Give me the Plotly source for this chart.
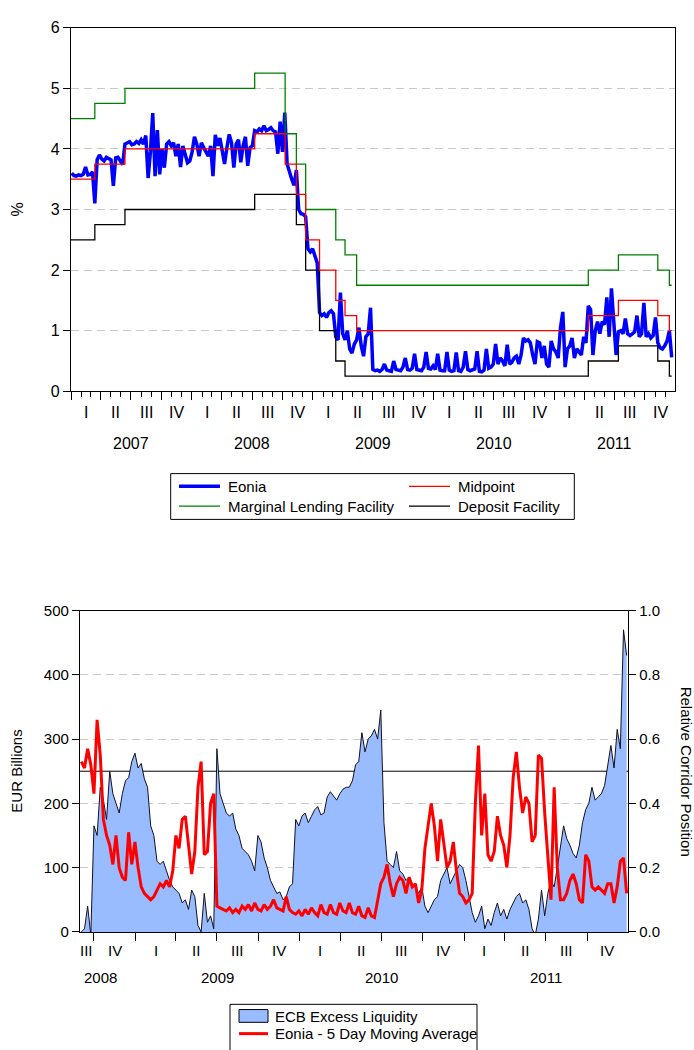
import pandas as pd
import plotly.graph_objects as go

W, H = 694, 1050
FONT = "Liberation Sans, Arial, sans-serif"

# ---------------- Top panel: ECB rates and Eonia (weekly readings) ----------------
eonia_2007 = [3.60, 3.56, 3.55, 3.57, 3.56, 3.58, 3.70, 3.57, 3.58, 3.62, 3.10, 3.82, 3.90,
              3.83, 3.80, 3.86, 3.84, 3.82, 3.39, 3.85, 3.86, 3.80, 3.74, 4.08, 4.10, 4.12,
              4.07, 4.08, 4.12, 4.09, 4.15, 4.08, 4.22, 3.52, 3.95, 4.59, 3.55, 4.31, 3.58,
              4.00, 3.69, 4.08, 4.12, 4.05, 4.10, 3.88, 4.08, 3.70, 4.05, 3.88, 3.77, 3.80]
eonia_2008 = [3.95, 4.20, 4.08, 3.88, 4.10, 4.02, 3.95, 3.88, 4.05, 3.55, 4.23, 4.05, 4.18,
              3.95, 3.75, 4.02, 4.24, 4.10, 3.69, 4.08, 4.15, 3.78, 4.05, 4.20, 3.72, 4.02,
              4.05, 4.30, 4.28, 4.33, 4.30, 4.38, 4.30, 4.32, 4.35, 4.30, 4.28, 3.92, 4.45,
              3.95, 4.60, 3.75, 3.60, 3.50, 3.40, 3.65, 3.00, 2.93, 2.92, 2.88, 2.35, 2.30, 2.35]
eonia_2009 = [2.25, 2.12, 1.30, 1.25, 1.28, 1.22, 1.30, 1.33, 1.28, 0.90, 0.85, 1.63,
              0.95, 0.85, 1.00, 0.70, 0.63, 0.78, 0.85, 1.05, 0.75, 0.58, 0.90, 0.95, 1.38,
              0.36, 0.34, 0.35, 0.33, 0.36, 0.45, 0.35, 0.34, 0.33, 0.50, 0.36, 0.35, 0.34, 0.40,
              0.55, 0.36, 0.35, 0.38, 0.62, 0.36, 0.35, 0.34, 0.40, 0.65, 0.38, 0.37, 0.42]
eonia_2010 = [0.36, 0.62, 0.35, 0.34, 0.34, 0.65, 0.35, 0.33, 0.34, 0.64, 0.34, 0.33, 0.40,
              0.66, 0.36, 0.34, 0.35, 0.37, 0.66, 0.33, 0.32, 0.35, 0.70, 0.38, 0.40, 0.45,
              0.78, 0.45, 0.55, 0.50, 0.42, 0.77, 0.45, 0.48, 0.55, 0.58, 0.45, 0.60, 0.88,
              0.83, 0.85, 0.80, 0.60, 0.45, 0.82, 0.80, 0.55, 0.75, 0.45, 0.40, 0.83, 0.70]
eonia_2011 = [0.65, 0.55, 1.05, 1.31, 0.40, 0.70, 0.75, 0.88, 0.55, 0.70, 0.65, 0.60, 0.90,
              0.80, 1.41, 1.35, 0.60, 1.00, 1.15, 0.95, 1.15, 1.10, 1.55, 0.90, 1.70, 1.10,
              0.60, 0.98, 1.00, 0.95, 1.20, 0.95, 0.92, 0.95, 0.98, 1.25, 0.90, 0.95, 1.46,
              0.90, 0.95, 0.88, 0.92, 1.22, 0.80, 0.72, 0.70, 0.75, 0.83, 1.00, 0.56]
eonia = eonia_2007 + eonia_2008 + eonia_2009 + eonia_2010 + eonia_2011
eonia_dates = pd.date_range("2007-01-03", periods=len(eonia), freq="7D")

rate_dates = ["2007-01-01", "2007-03-14", "2007-06-13", "2008-07-09", "2008-10-09",
              "2008-11-12", "2008-12-10", "2009-01-21", "2009-03-11", "2009-04-08",
              "2009-05-13", "2011-04-13", "2011-07-13", "2011-11-09", "2011-12-14", "2011-12-21"]
marginal_lending = [4.50, 4.75, 5.00, 5.25, 4.25, 3.75, 3.00, 3.00, 2.50, 2.25, 1.75, 2.00, 2.25, 2.00, 1.75, 1.75]
deposit_facility = [2.50, 2.75, 3.00, 3.25, 3.25, 2.75, 2.00, 1.00, 0.50, 0.25, 0.25, 0.50, 0.75, 0.50, 0.25, 0.25]
midpoint = [3.50, 3.75, 4.00, 4.25, 3.75, 3.25, 2.50, 2.00, 1.50, 1.25, 1.00, 1.25, 1.50, 1.25, 1.00, 1.00]

# ---------------- Bottom panel: excess liquidity and Eonia corridor position ----------------
excess_liquidity = [
    0, 5, 40, -5, 165, 150, 225, 205, 175, 250,
    215, 200, 185, 215, 235, 240, 265, 278, 255, 262,
    238, 225, 165, 150, 110, 105, 110, 95, 80, 70,
    65, 60, 45, 50, 35, 65, 55, 10, 0, 60,
    15, 25, 5, 285, 215, 200, 185, 180, 185, 160,
    150, 130, 125, 120, 110, 95, 150, 140, 115, 100,
    80, 70, 60, 62, 50, 55, 70, 75, 175, 165,
    180, 185, 170, 180, 190, 195, 182, 185, 210, 218,
    212, 205, 215, 222, 225, 225, 235, 260, 265, 310,
    280, 300, 305, 315, 300, 345, 170, 110, 105, 100,
    125, 95, 90, 80, 85, 75, 70, 60, 70, 40,
    30, 40, 50, 55, 80, 90, 100, 75, 85, 95,
    105, 100, 80, 55, 30, 15, 25, 40, 5, 20,
    10, 30, 45, 25, 35, 20, 35, 45, 55, 60,
    45, 50, 35, 5, -5, 20, 65, 25, 60, 80,
    70, 100, 130, 165, 145, 135, 122, 115, 135, 170,
    190, 200, 225, 205, 210, 215, 228, 258, 290, 255,
    315, 285, 470, 430]
eonia_corridor_position = [
    0.53, 0.51, 0.57, 0.52, 0.43, 0.66, 0.55, 0.35, 0.30, 0.27,
    0.21, 0.30, 0.20, 0.17, 0.16, 0.31, 0.21, 0.28, 0.20, 0.14,
    0.12, 0.11, 0.10, 0.11, 0.13, 0.15, 0.14, 0.16, 0.14, 0.19,
    0.30, 0.26, 0.35, 0.36, 0.27, 0.18, 0.25, 0.45, 0.53, 0.24,
    0.25, 0.40, 0.43, 0.08, 0.075, 0.07, 0.065, 0.075, 0.06, 0.07,
    0.06, 0.08, 0.07, 0.085, 0.065, 0.09, 0.07, 0.065, 0.085, 0.07,
    0.08, 0.10, 0.075, 0.07, 0.065, 0.11, 0.07, 0.06, 0.055, 0.065,
    0.05, 0.07, 0.055, 0.075, 0.06, 0.05, 0.085, 0.06, 0.055, 0.085,
    0.06, 0.055, 0.09, 0.065, 0.06, 0.09, 0.06, 0.055, 0.08, 0.05,
    0.045, 0.075, 0.05, 0.045, 0.10, 0.15, 0.17, 0.21, 0.15, 0.11,
    0.15, 0.17, 0.16, 0.12, 0.17, 0.14, 0.15, 0.09, 0.13, 0.26,
    0.33, 0.40, 0.33, 0.22, 0.35, 0.28, 0.20, 0.22, 0.28, 0.19,
    0.12, 0.11, 0.09, 0.10, 0.12, 0.40, 0.58, 0.30, 0.43, 0.24,
    0.22, 0.25, 0.36, 0.30, 0.27, 0.20, 0.30, 0.48, 0.56, 0.45,
    0.37, 0.42, 0.40, 0.28, 0.30, 0.55, 0.54, 0.37, 0.22, 0.10,
    0.45, 0.20, 0.10, 0.10, 0.12, 0.16, 0.18, 0.15, 0.10, 0.09,
    0.24, 0.22, 0.14, 0.13, 0.14, 0.13, 0.12, 0.15, 0.15, 0.09,
    0.14, 0.22, 0.23, 0.12]
bottom_dates = pd.date_range("2008-09-03", periods=len(excess_liquidity), freq="7D")
corridor_mid_level = 250

quarter_names = ["I", "II", "III", "IV"]
top_years = [2007, 2008, 2009, 2010, 2011]
bottom_years = [2008, 2009, 2010, 2011]

TOP_RANGE = ["2007-01-01", "2011-12-31"]
BOT_RANGE = ["2008-08-31", "2011-12-31"]


def px(x):
    return x / W


def py(y):
    return 1 - y / H


fig = go.Figure()

# ---- top traces
fig.add_trace(go.Scatter(x=eonia_dates, y=eonia, mode="lines", name="Eonia",
                         line=dict(color="#0000FF", width=3.5), xaxis="x", yaxis="y"))
fig.add_trace(go.Scatter(x=rate_dates, y=marginal_lending, mode="lines", line_shape="hv",
                         name="Marginal Lending Facility", line=dict(color="#008000", width=1.3),
                         xaxis="x", yaxis="y"))
fig.add_trace(go.Scatter(x=rate_dates, y=deposit_facility, mode="lines", line_shape="hv",
                         name="Deposit Facility", line=dict(color="#000000", width=1.3),
                         xaxis="x", yaxis="y"))
fig.add_trace(go.Scatter(x=rate_dates, y=midpoint, mode="lines", line_shape="hv",
                         name="Midpoint", line=dict(color="#FF0000", width=1.3),
                         xaxis="x", yaxis="y"))

# ---- bottom traces
fig.add_trace(go.Scatter(x=BOT_RANGE, y=[corridor_mid_level, corridor_mid_level], mode="lines",
                         line=dict(color="#000000", width=1), showlegend=False,
                         xaxis="x2", yaxis="y2"))
fig.add_trace(go.Scatter(x=bottom_dates, y=excess_liquidity, mode="lines", fill="tozeroy",
                         fillcolor="#99BBFF", name="ECB Excess Liquidity",
                         line=dict(color="#111122", width=1), xaxis="x2", yaxis="y2"))
fig.add_trace(go.Scatter(x=bottom_dates, y=eonia_corridor_position, mode="lines",
                         name="Eonia - 5 Day Moving Average",
                         line=dict(color="#FF0000", width=3), xaxis="x2", yaxis="y3"))

# ---- ticks
top_q = pd.date_range("2007-01-01", "2012-01-01", freq="QS")
top_m = [d for d in pd.date_range("2007-01-01", "2011-12-01", freq="MS") if d.month not in (1, 4, 7, 10)]
bot_q = pd.date_range("2008-10-01", "2012-01-01", freq="QS")

axis_common = dict(showline=True, linecolor="black", linewidth=1.3, mirror=True,
                   zeroline=False, ticks="outside", tickcolor="black", tickwidth=1)

fig.update_layout(
    width=W, height=H, margin=dict(l=0, r=0, t=0, b=0),
    paper_bgcolor="white", plot_bgcolor="white", showlegend=False,
    font=dict(family=FONT, color="black"),
    xaxis=dict(domain=[px(71), px(675)], anchor="y", type="date", range=TOP_RANGE,
               tickvals=list(top_q), showticklabels=False, ticklen=8, showgrid=False,
               minor=dict(tickvals=top_m, ticklen=5, ticks="outside", tickcolor="black", showgrid=False),
               **axis_common),
    yaxis=dict(domain=[py(389), py(19)], anchor="x", range=[0, 6], tickvals=[0, 1, 2, 3, 4, 5, 6],
               ticklen=7, tickfont=dict(size=16), showgrid=True, gridcolor="#C8C8C8",
               griddash="8px,5px", gridwidth=1, **axis_common),
    xaxis2=dict(domain=[px(80), px(628)], anchor="y2", type="date", range=BOT_RANGE,
                tickvals=list(bot_q), showticklabels=False, ticklen=8, showgrid=False,
                **axis_common),
    yaxis2=dict(domain=[py(939), py(612)], anchor="x2", range=[0, 500],
                tickvals=[0, 100, 200, 300, 400, 500], ticklen=7, tickfont=dict(size=15),
                showgrid=True, gridcolor="#C8C8C8", griddash="8px,5px", gridwidth=1,
                **axis_common),
    yaxis3=dict(overlaying="y2", anchor="x2", side="right", range=[0, 1],
                tickvals=[0, 0.2, 0.4, 0.6, 0.8, 1.0], tickformat=".1f", ticklen=7,
                tickfont=dict(size=15), showgrid=False, showline=True, linecolor="black",
                linewidth=1.3, zeroline=False, ticks="outside", tickcolor="black"),
)

ann = []
# quarter / year labels (top)
for q in top_q[:-1]:
    mid = q + (q + pd.offsets.QuarterBegin(startingMonth=1) - q) / 2
    ann.append(dict(x=mid.strftime("%Y-%m-%d"), y=py(410.5), xref="x", yref="paper",
                    text=quarter_names[(q.month - 1) // 3], showarrow=False,
                    font=dict(size=16), xanchor="center", yanchor="middle"))
for yr in top_years:
    ann.append(dict(x=f"{yr}-07-02", y=py(441.7), xref="x", yref="paper", text=str(yr),
                    showarrow=False, font=dict(size=16), xanchor="center", yanchor="middle"))

# quarter / year labels (bottom), centred on the visible part of each period
b0, b1 = pd.Timestamp(BOT_RANGE[0]), pd.Timestamp(BOT_RANGE[1])
q_centres = {}
for q in pd.date_range("2008-07-01", "2011-10-01", freq="QS"):
    qe = q + pd.offsets.QuarterBegin(startingMonth=1)
    s, e = max(q, b0), min(qe, b1)
    mid = s + (e - s) / 2
    q_centres.setdefault(q.year, []).append(mid)
    ann.append(dict(x=mid.strftime("%Y-%m-%d"), y=py(958), xref="x2", yref="paper",
                    text=quarter_names[(q.month - 1) // 3], showarrow=False,
                    font=dict(size=15), xanchor="center", yanchor="middle"))
for yr in bottom_years:
    c = q_centres[yr]
    mid = c[0] + (c[-1] - c[0]) / 2
    ann.append(dict(x=mid.strftime("%Y-%m-%d"), y=py(985.7), xref="x2", yref="paper",
                    text=str(yr), showarrow=False, font=dict(size=15),
                    xanchor="center", yanchor="middle"))

# axis titles
ann.append(dict(x=px(18), y=py(204), xref="paper", yref="paper", text="%", textangle=-90,
                showarrow=False, font=dict(size=16), xanchor="center", yanchor="middle"))
ann.append(dict(x=px(17), y=py(776), xref="paper", yref="paper", text="EUR Billions",
                textangle=-90, showarrow=False, font=dict(size=15),
                xanchor="center", yanchor="middle"))
ann.append(dict(x=px(686), y=py(776), xref="paper", yref="paper",
                text="Relative Corridor Position", textangle=90, showarrow=False,
                font=dict(size=15), xanchor="center", yanchor="middle"))

# legends (drawn manually to match the boxed two-column layout)
shapes = []
shapes.append(dict(type="rect", xref="paper", yref="paper", x0=px(170.7), x1=px(574.3),
                   y0=py(519.3), y1=py(472.7), line=dict(color="black", width=1),
                   fillcolor="white", layer="above"))
top_leg = [("Eonia", "#0000FF", 3.5, 179, 226, 485.7),
           ("Midpoint", "#FF0000", 1.3, 409, 456, 485.7),
           ("Marginal Lending Facility", "#008000", 1.3, 179, 226, 505.7),
           ("Deposit Facility", "#000000", 1.3, 409, 456, 505.7)]
for name, col, lw, lx, tx, ly in top_leg:
    shapes.append(dict(type="line", xref="paper", yref="paper", x0=px(lx), x1=px(lx + 41),
                       y0=py(ly), y1=py(ly), line=dict(color=col, width=lw), layer="above"))
    ann.append(dict(x=px(tx), y=py(ly), xref="paper", yref="paper", text=name,
                    showarrow=False, xanchor="left", yanchor="middle", font=dict(size=15)))

shapes.append(dict(type="rect", xref="paper", yref="paper", x0=px(230), x1=px(477),
                   y0=py(1060), y1=py(1012.7), line=dict(color="black", width=1),
                   fillcolor="white", layer="above"))
shapes.append(dict(type="rect", xref="paper", yref="paper", x0=px(239), x1=px(268),
                   y0=py(1031), y1=py(1018), line=dict(color="black", width=1),
                   fillcolor="#99BBFF", layer="above"))
shapes.append(dict(type="line", xref="paper", yref="paper", x0=px(239), x1=px(268),
                   y0=py(1042.5), y1=py(1042.5), line=dict(color="#FF0000", width=3),
                   layer="above"))
ann.append(dict(x=px(273), y=py(1025), xref="paper", yref="paper", text="ECB Excess Liquidity",
                showarrow=False, xanchor="left", yanchor="middle", font=dict(size=15)))
ann.append(dict(x=px(273), y=py(1042.5), xref="paper", yref="paper",
                text="Eonia - 5 Day Moving Average", showarrow=False, xanchor="left",
                yanchor="middle", font=dict(size=15)))

fig.update_layout(annotations=ann, shapes=shapes)
fig.write_html("out.html", config={"displayModeBar": False},
               post_script="document.body.style.margin='0';document.body.style.overflow='hidden';")
